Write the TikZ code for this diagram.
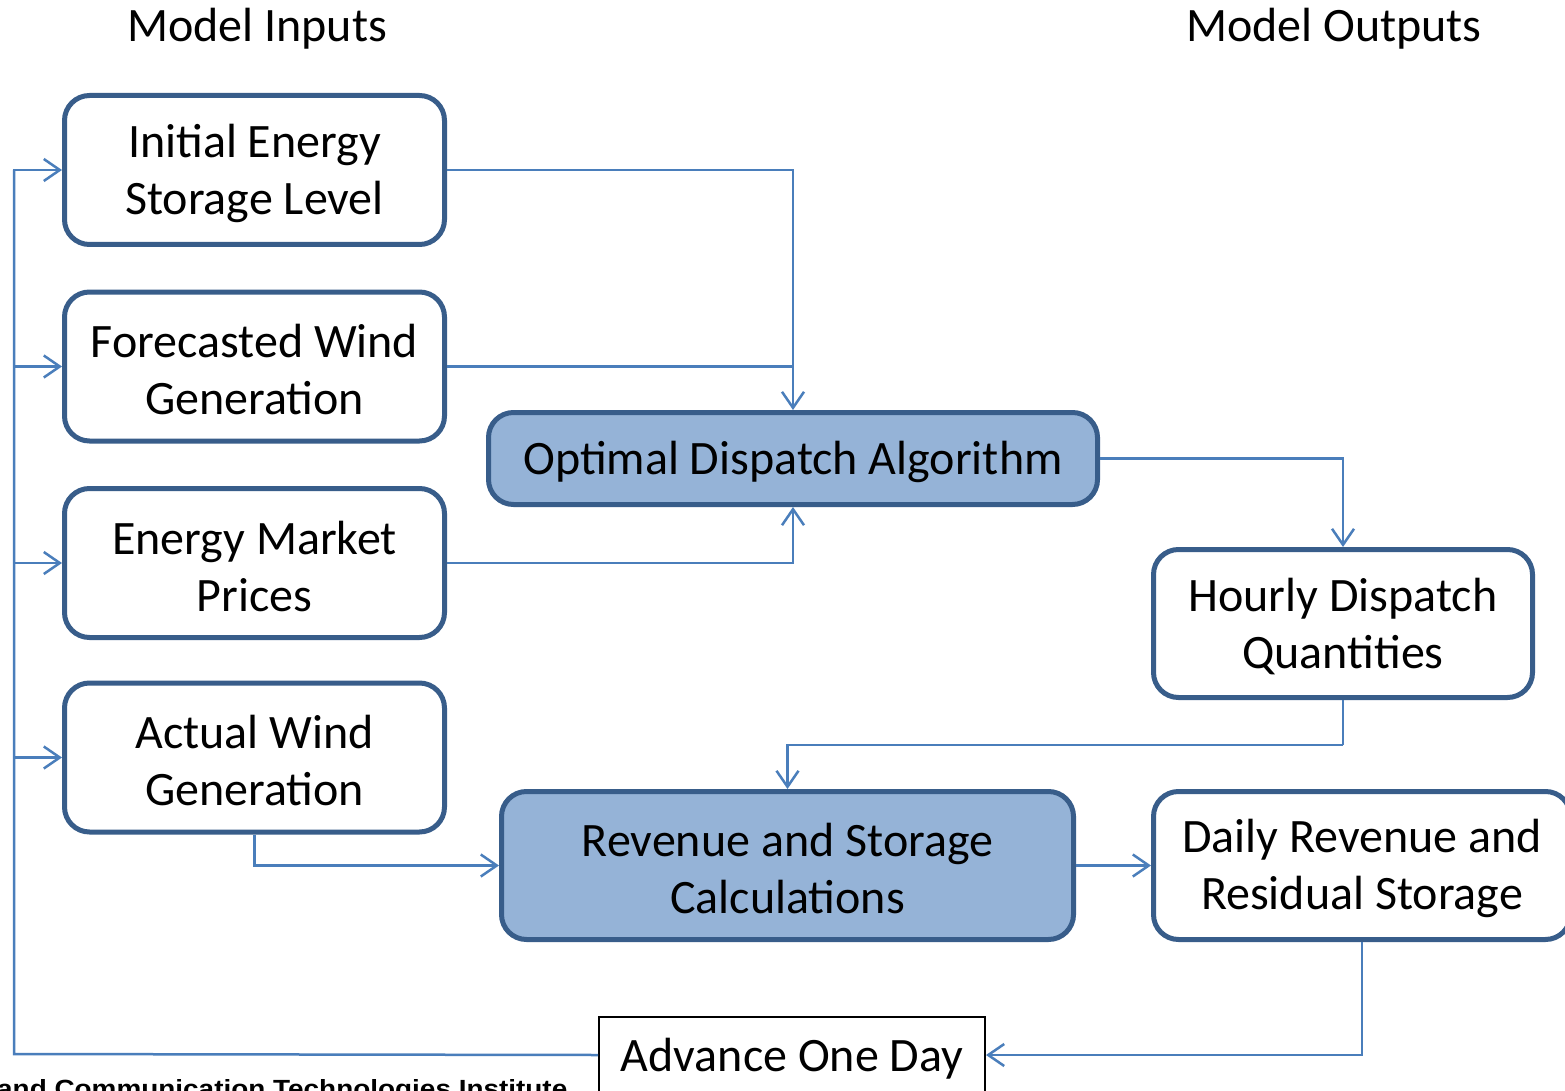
\documentclass[tikz,border=0pt]{standalone}
\usepackage{fontspec}
\usepackage{graphicx}
\setmainfont{Carlito}
\newfontfamily\footfont{Liberation Sans}
\usetikzlibrary{arrows.meta,positioning}
\definecolor{boxline}{RGB}{56,93,138}
\definecolor{boxfill}{RGB}{149,179,215}
\definecolor{connc}{RGB}{74,126,187}
\newcommand\boxstrut{\rule{0pt}{40pt}}
\tikzset{
  roundbox/.style={draw=boxline, line width=5pt, rounded corners=25pt, fill=white,
    inner sep=0pt, align=center, font=\fontsize{48}{57}\selectfont},
  bluebox/.style={roundbox, fill=boxfill},
  plainbox/.style={draw=black, line width=2pt, fill=white, inner sep=0pt, align=center,
    font=\fontsize{48}{57}\selectfont},
  titletext/.style={inner sep=0pt, font=\fontsize{48}{57}\selectfont},
  conn/.style={draw=connc, line width=2.5pt,
    -{Straight Barb[length=16pt,width=22pt,line width=2.5pt]}},
  plainline/.style={draw=connc, line width=2.5pt}
}
\begin{document}
\begin{tikzpicture}[x=1pt,y=-1pt]
\useasboundingbox (0,0) rectangle (1565,1091);
\clip (0,0) rectangle (1565,1091);
\fill[white] (0,0) rectangle (1565,1091);

% titles
\node[titletext, anchor=base] (tin) at (257,42) {Model Inputs};
\node[titletext, anchor=base] (tout) at (1334,42) {Model Outputs};

% input boxes
\node[roundbox, minimum width=380pt, minimum height=149pt] (ies) at (254.5,170) {\boxstrut Initial Energy\\Storage Level};
\node[roundbox, minimum width=380pt, minimum height=149pt] (fwg) at (254.5,366.5) {\boxstrut Forecasted Wind\\Generation};
\node[roundbox, minimum width=380pt, minimum height=149pt] (emp) at (254.5,563) {\boxstrut Energy Market\\Prices};
\node[roundbox, minimum width=380pt, minimum height=149pt] (awg) at (254.5,757.5) {\boxstrut Actual Wind\\Generation};

% processing boxes
\node[bluebox, minimum width=609pt, minimum height=92pt] (opt) at (793,458.5) {\boxstrut Optimal Dispatch Algorithm};
\node[bluebox, minimum width=572pt, minimum height=148pt] (rsc) at (787.5,865.5) {\boxstrut Revenue and Storage\\Calculations};

% output boxes
\node[roundbox, minimum width=379pt, minimum height=148pt] (hdq) at (1343,623.5) {\boxstrut Hourly Dispatch\\Quantities};
\node[roundbox, minimum width=417pt, minimum height=148pt] (drs) at (1362,865.5) {\boxstrut Daily Revenue and\\Residual Storage};

% advance box
\node[plainbox, minimum width=386pt, minimum height=76pt] (aod) at (792,1055) {\boxstrut Advance One Day};

% footer text (partially cut off in the reference)
\node[inner sep=0pt, anchor=base west] (foot) at (-3,1097)
  {\resizebox{570pt}{18pt}{\footfont\bfseries and Communication Technologies Institute}};

% coordinates
\coordinate (h1) at (1343,745);
\coordinate (fb) at (14,1054);
\coordinate (fbtop) at (14,170);

% connectors
\draw[conn] (ies.east) -| (opt.north);
\draw[plainline] (fwg.east) -- (fwg.east -| opt.north);
\draw[conn] (emp.east) -| (opt.south);
\draw[conn] (opt.east) -| (hdq.north);
\draw[plainline] (hdq.south) -- (h1);
\draw[conn] (h1) -| (rsc.north);
\draw[conn] (awg.south) |- (rsc.west);
\draw[conn] (rsc.east) -- (drs.west);
\draw[conn] (drs.south) |- (aod.east);
\draw[plainline] (aod.west) -- (fb) -- (fbtop);
\draw[conn] (fb) |- (ies.west);
\draw[conn] (fb) |- (fwg.west);
\draw[conn] (fb) |- (emp.west);
\draw[conn] (fb) |- (awg.west);
\end{tikzpicture}
\end{document}
